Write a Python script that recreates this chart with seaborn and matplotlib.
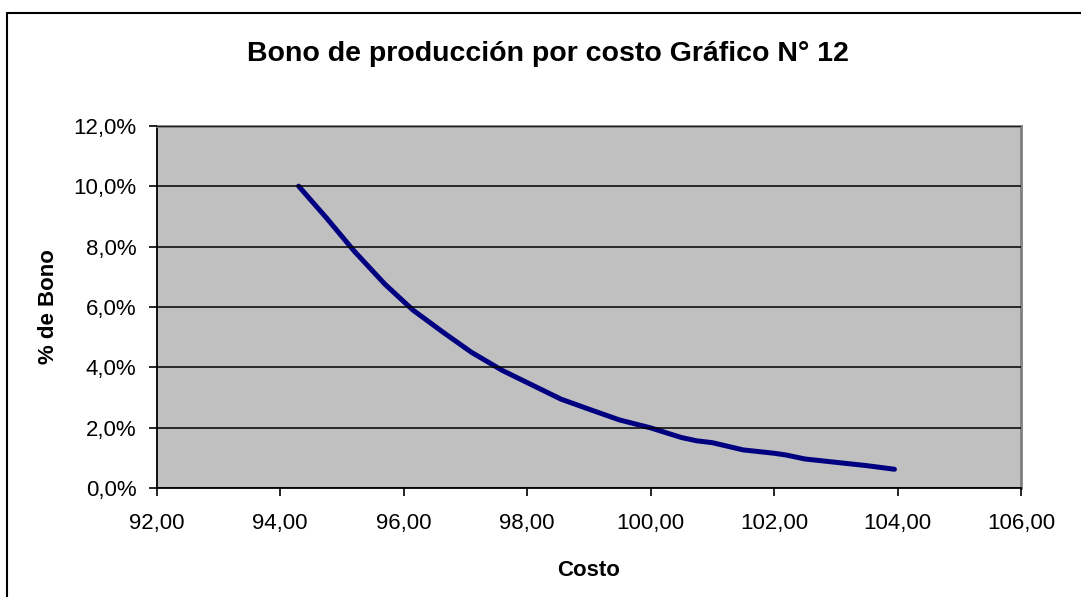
import numpy as np
import pandas as pd
import seaborn as sns
import matplotlib.pyplot as plt
from matplotlib.lines import Line2D
from matplotlib.ticker import FuncFormatter, MultipleLocator

# ==============================================================================
# DATA
# ==============================================================================
costo = [94.30, 94.75, 95.20, 95.70, 96.15, 96.65, 97.10, 97.60, 98.05, 98.55,
         99.00, 99.50, 100.00, 100.50, 100.75, 101.00, 101.50, 102.00, 102.20,
         102.50, 103.00, 103.50, 103.95]
bono = [10.00, 8.95, 7.85, 6.75, 5.90, 5.15, 4.50, 3.90, 3.45, 2.95,
        2.62, 2.26, 2.00, 1.68, 1.57, 1.51, 1.27, 1.16, 1.10,
        0.97, 0.86, 0.75, 0.63]

title = "Bono de producción por costo Gráfico N° 12"
x_label = "Costo"
y_label = "% de Bono"

df = pd.DataFrame({"Costo": costo, "Bono": bono})

# ==============================================================================
# STYLE
# ==============================================================================
sns.set_style("white")
plt.rcParams['font.family'] = ['Liberation Sans', 'DejaVu Sans']
plt.rcParams['text.color'] = 'black'
plt.rcParams['axes.labelcolor'] = 'black'
plt.rcParams['xtick.color'] = 'black'
plt.rcParams['ytick.color'] = 'black'

fig = plt.figure(figsize=(10.81, 5.97), dpi=100)
ax = fig.add_axes([0.1449, 0.1821, 0.7996, 0.6073])
ax.set_facecolor("#c0c0c0")

sns.lineplot(data=df, x="Costo", y="Bono", ax=ax, color="#000080",
             linewidth=3.6, sort=False)

ax.set_xlim(92, 106)
ax.set_ylim(0, 12)
ax.xaxis.set_major_locator(MultipleLocator(2))
ax.yaxis.set_major_locator(MultipleLocator(2))
ax.xaxis.set_major_formatter(FuncFormatter(lambda v, p: f"{v:.2f}".replace(".", ",")))
ax.yaxis.set_major_formatter(FuncFormatter(lambda v, p: f"{v:.1f}%".replace(".", ",")))

ax.yaxis.grid(True, color="black", linewidth=1.1)
ax.xaxis.grid(False)
ax.set_axisbelow(False)

for side in ["left", "bottom"]:
    ax.spines[side].set_color("black")
    ax.spines[side].set_linewidth(1.3)
for side in ["top", "right"]:
    ax.spines[side].set_color("#808080")
    ax.spines[side].set_linewidth(2)

ax.tick_params(axis="both", direction="out", length=5.5, width=1.2, color="black",
               labelsize=16, bottom=True, left=True)
ax.tick_params(axis="x", pad=12)
ax.tick_params(axis="y", pad=9)

ax.set_xlabel(x_label, fontsize=16, fontweight="bold", labelpad=19)
ax.set_ylabel(y_label, fontsize=16, fontweight="bold", labelpad=10)

fig.text(548 / 1081, 1 - 54 / 597, title, ha="center", va="center",
         fontsize=20.5, fontweight="bold")

# partial outer frame (left and top edges of the chart box)
fig.add_artist(Line2D([7 / 1081, 7 / 1081], [0, 1 - 13 / 597],
                      transform=fig.transFigure, color="black", linewidth=1.5))
fig.add_artist(Line2D([7 / 1081, 1], [1 - 13 / 597, 1 - 13 / 597],
                      transform=fig.transFigure, color="black", linewidth=1.5))

plt.savefig("out.png", dpi=100)
plt.close()
